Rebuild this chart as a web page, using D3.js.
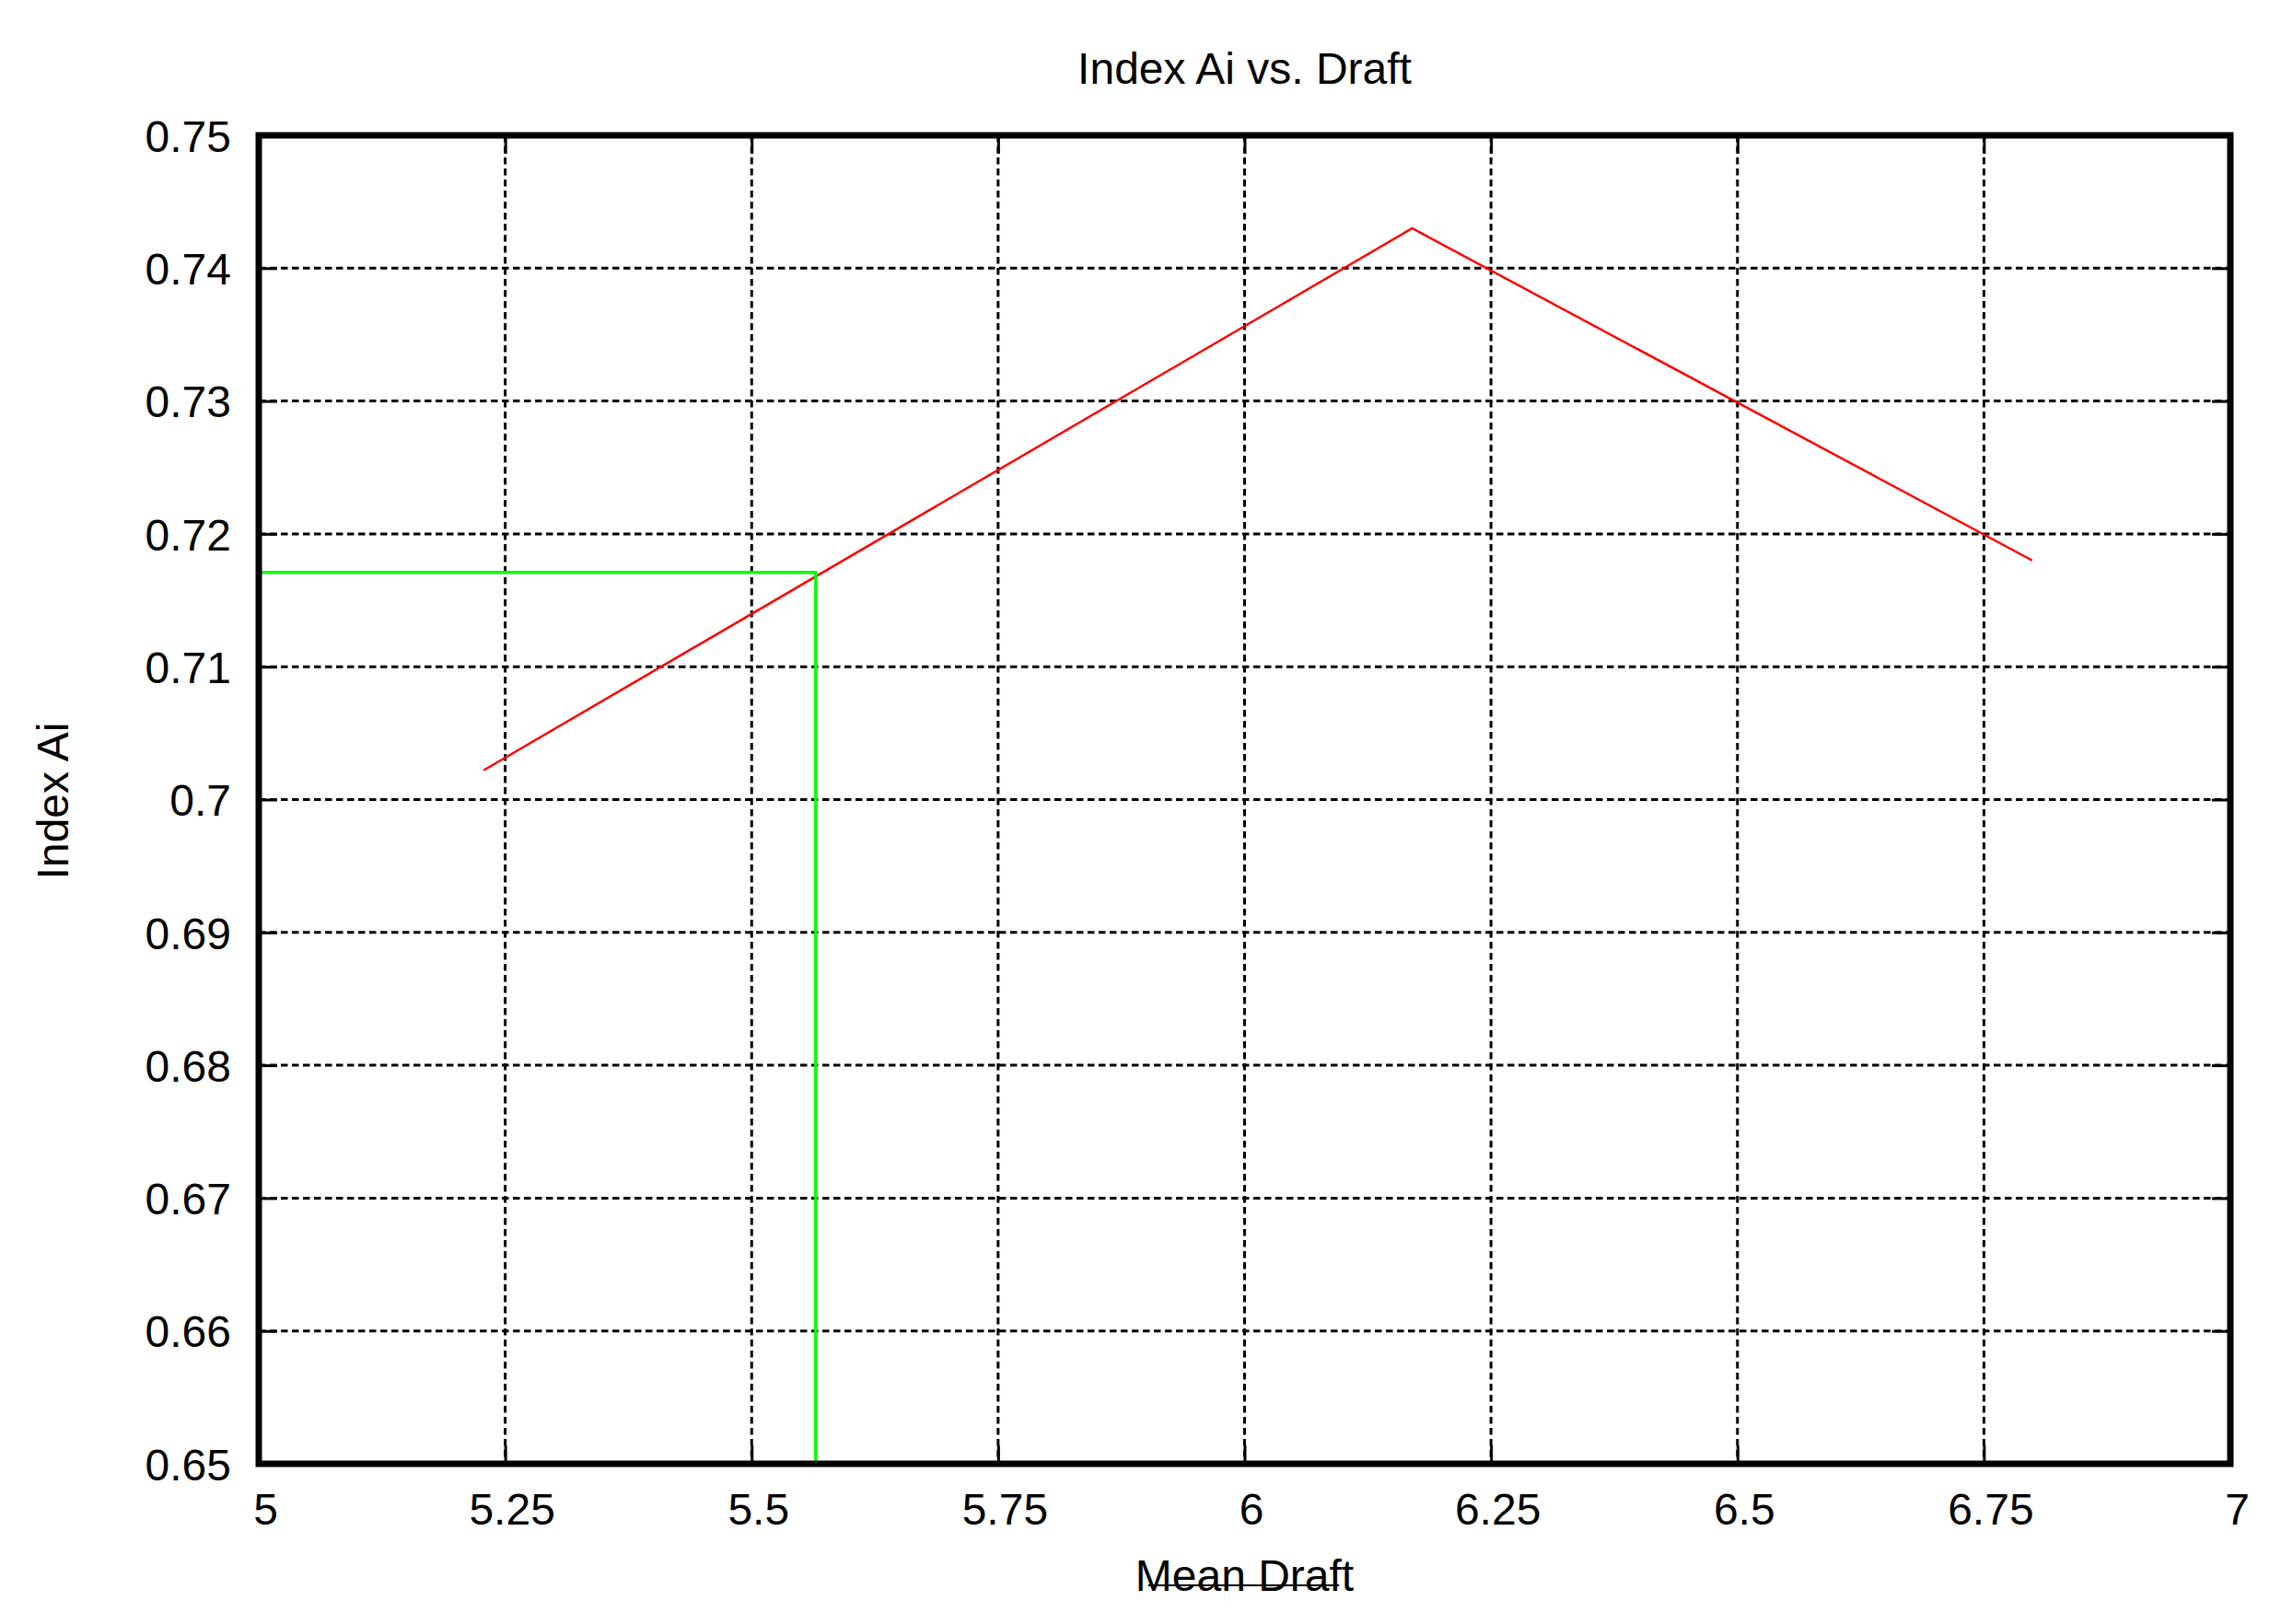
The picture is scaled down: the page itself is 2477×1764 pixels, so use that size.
<!DOCTYPE html>
<html>
<head>
<meta charset="utf-8">
<script src="https://cdn.jsdelivr.net/npm/d3@7"></script>
<style>
  body { margin: 0; background: #fff; }
  svg { display: block; }
  text { font-family: "Liberation Sans", Arial, sans-serif; fill: #000; }
</style>
</head>
<body>
<svg id="chart"></svg>
<script>
// data
const draft = [5.228, 6.17, 6.799];
const indexAi = [0.7022, 0.7430, 0.7180];
const markerDraft = 5.565;
const markerIndex = 0.7171;
const xTicks = [5, 5.25, 5.5, 5.75, 6, 6.25, 6.5, 6.75, 7];
const yTicks = [0.65, 0.66, 0.67, 0.68, 0.69, 0.7, 0.71, 0.72, 0.73, 0.74, 0.75];

const W = 2477, H = 1764;
const margin = { top: 147, right: 55, bottom: 174, left: 281 };
const width = W - margin.left - margin.right;
const height = H - margin.top - margin.bottom;

const svg = d3.select("#chart").attr("width", W).attr("height", H);
const g = svg.append("g").attr("transform", `translate(${margin.left},${margin.top})`);

const x = d3.scaleLinear().domain([5, 7]).range([0, width]);
const y = d3.scaleLinear().domain([0.65, 0.75]).range([height, 0]);

// dashed grid
g.append("g").selectAll("line")
  .data(xTicks.slice(1, -1))
  .join("line")
  .attr("x1", d => x(d)).attr("x2", d => x(d))
  .attr("y1", 0).attr("y2", height);
g.append("g").selectAll("line")
  .data(yTicks.slice(1, -1))
  .join("line")
  .attr("y1", d => y(d)).attr("y2", d => y(d))
  .attr("x1", 0).attr("x2", width);
g.selectAll("g line")
  .attr("stroke", "#000")
  .attr("stroke-width", 3)
  .attr("stroke-dasharray", "7.5,4.5");

// red curve
const pts = draft.map((d, i) => [d, indexAi[i]]);
g.append("path")
  .attr("d", d3.line().x(d => x(d[0])).y(d => y(d[1]))(pts))
  .attr("fill", "none")
  .attr("stroke", "#ff0000")
  .attr("stroke-width", 2.5);

// green read-off lines
g.append("path")
  .attr("d", d3.line()([[x(5), y(markerIndex)], [x(markerDraft), y(markerIndex)], [x(markerDraft), y(0.65)]]))
  .attr("fill", "none")
  .attr("stroke", "#00ff00")
  .attr("stroke-width", 3.5);

// axes with inward ticks
const styleAxis = sel => {
  sel.select(".domain").remove();
  sel.selectAll(".tick line").attr("stroke", "#000").attr("stroke-width", 3);
  sel.selectAll("text").style("font-size", "48px").attr("fill", "#000");
};

g.append("g")
  .attr("transform", `translate(0,${height})`)
  .call(d3.axisBottom(x).tickValues(xTicks).tickSize(-20).tickPadding(32).tickFormat(d3.format("")))
  .call(styleAxis)
  .call(s => s.selectAll("text").attr("dx", 7));

g.append("g")
  .call(d3.axisLeft(y).tickValues(yTicks).tickSize(-20).tickPadding(30).tickFormat(d3.format("")))
  .call(styleAxis)
  .call(s => s.selectAll("text").attr("dy", "0.36em"));

g.append("g")
  .call(d3.axisTop(x).tickValues(xTicks).tickSize(-20).tickFormat(""))
  .call(styleAxis);

g.append("g")
  .attr("transform", `translate(${width},0)`)
  .call(d3.axisRight(y).tickValues(yTicks).tickSize(-20).tickFormat(""))
  .call(styleAxis);

// frame
g.append("rect")
  .attr("width", width).attr("height", height)
  .attr("fill", "none")
  .attr("stroke", "#000")
  .attr("stroke-width", 7);

// titles
svg.append("text")
  .attr("x", margin.left + width / 2)
  .attr("y", 91)
  .attr("text-anchor", "middle")
  .style("font-size", "48px")
  .text("Index Ai vs. Draft");

const xLabel = svg.append("text")
  .attr("x", margin.left + width / 2)
  .attr("y", 1728)
  .attr("text-anchor", "middle")
  .style("font-size", "48px")
  .text("Mean Draft");

// the stray rule through the x label in the original
const bb = xLabel.node().getBBox();
svg.append("line")
  .attr("x1", bb.x + 14).attr("x2", bb.x + bb.width - 16)
  .attr("y1", 1722).attr("y2", 1722)
  .attr("stroke", "#000").attr("stroke-width", 2);

svg.append("text")
  .attr("transform", "translate(74,870) rotate(-90)")
  .attr("text-anchor", "middle")
  .style("font-size", "48px")
  .text("Index Ai");
</script>
</body>
</html>
